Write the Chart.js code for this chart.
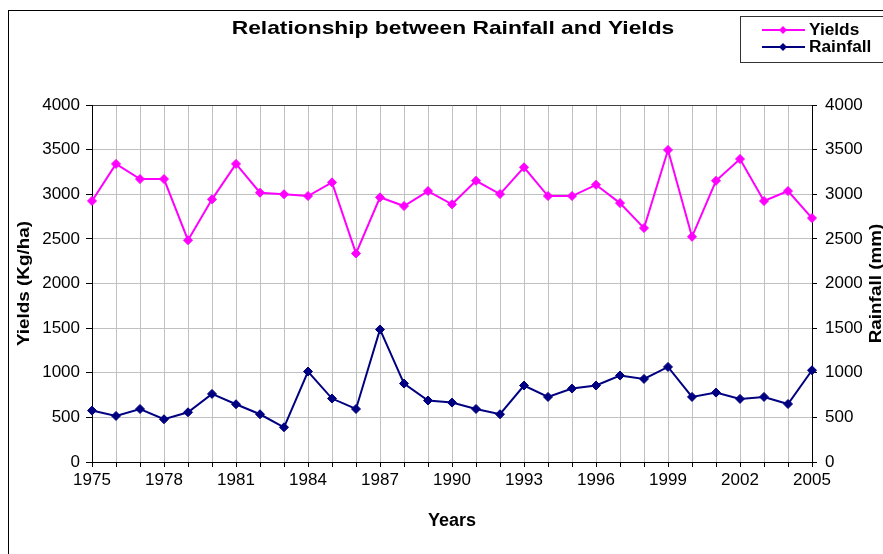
<!DOCTYPE html>
<html>
<head>
<meta charset="utf-8">
<title>Relationship between Rainfall and Yields</title>
<script src="https://cdn.jsdelivr.net/npm/chart.js"></script>
<style>
    html, body { margin: 0; padding: 0; background: #fff; }
    #myChart { display: block; }
</style>
</head>
<body>
<canvas id="myChart" width="883" height="554"></canvas>
<script>
const years = [1975, 1976, 1977, 1978, 1979, 1980, 1981, 1982, 1983, 1984,
    1985, 1986, 1987, 1988, 1989, 1990, 1991, 1992, 1993, 1994,
    1995, 1996, 1997, 1998, 1999, 2000, 2001, 2002, 2003, 2004, 2005]
const yields = [2925, 3340, 3170, 3170, 2485, 2943, 3340, 3017, 3000, 2980,
    3133, 2337, 2965, 2868, 3036, 2887, 3151, 3002, 3302, 2980,
    2980, 3106, 2901, 2621, 3496, 2523, 3151, 3395, 2924, 3036, 2733]
const rainfall = [576, 516, 594, 479, 557, 763, 647, 535, 389, 1014,
    711, 594, 1485, 879, 689, 666, 594, 535, 857, 729,
    823, 857, 969, 931, 1065, 729, 778, 707, 729, 650, 1028]
const yTicks = [0, 500, 1000, 1500, 2000, 2500, 3000, 3500, 4000]

const FONT = "'Liberation Sans', Arial, sans-serif"
const ctx = document.getElementById('myChart')

// the source chart's lettering is a bit wide, so stretch it along the text
function wideText(c, text, x, y, rot, stretch) {
    c.save()
    c.translate(x, y)
    c.rotate(rot)
    c.scale(stretch, 1)
    c.fillText(text, 0, 0)
    c.restore()
}

// frame, titles and the boxed legend like the spreadsheet chart
const decor = {
    id: 'decor',
    beforeDraw(chart) {
        const c = chart.ctx
        c.save()
        c.fillStyle = '#fff'
        c.fillRect(0, 0, chart.width, chart.height)
        c.strokeStyle = '#000'
        c.lineWidth = 1
        c.strokeRect(8.5, 10.5, 900, 600)
        c.restore()
    },
    afterDraw(chart) {
        const area = chart.chartArea
        const midY = (area.top + area.bottom) / 2
        const c = chart.ctx
        c.save()
        c.fillStyle = '#000'
        c.textAlign = 'center'
        c.textBaseline = 'middle'
        c.font = 'bold 19px ' + FONT
        wideText(c, 'Relationship between Rainfall and Yields', 453, 29, 0, 1.2)

        c.font = 'bold 16px ' + FONT
        wideText(c, 'Yields (Kg/ha)', 25, midY, -Math.PI / 2, 1.18)
        wideText(c, 'Rainfall (mm)', 877, midY, -Math.PI / 2, 1.18)

        // legend box
        c.fillStyle = '#fff'
        c.fillRect(740, 16, 150, 46)
        c.strokeStyle = '#333'
        c.lineWidth = 1
        c.strokeRect(740.5, 16.5, 150, 46)

        const items = [
            { text: 'Yields', color: '#FF00FF', y: 30 },
            { text: 'Rainfall', color: '#000080', y: 47 }
        ]
        items.forEach(item => {
            c.strokeStyle = item.color
            c.lineWidth = 2
            c.beginPath()
            c.moveTo(762, item.y)
            c.lineTo(805, item.y)
            c.stroke()
            c.fillStyle = item.color
            c.beginPath()
            c.moveTo(783, item.y - 4)
            c.lineTo(787, item.y)
            c.lineTo(783, item.y + 4)
            c.lineTo(779, item.y)
            c.closePath()
            c.fill()
            c.fillStyle = '#000'
            c.font = 'bold 16px ' + FONT
            c.textAlign = 'left'
            c.save()
            c.translate(809, item.y + 1)
            c.scale(1.08, 1)
            c.fillText(item.text, 0, 0)
            c.restore()
        })
        c.restore()
    }
}

const gridColor = (context) => context.tick && context.tick.value === 4000 ? '#404040' : '#c0c0c0'
const plainNumber = (v) => String(v)

new Chart(ctx, {
    type: 'line',
    data: {
        labels: years,
        datasets: [{
            label: 'Yields',
            data: yields,
            borderColor: '#FF00FF',
            backgroundColor: '#FF00FF',
            borderWidth: 2,
            pointStyle: 'rectRot',
            pointRadius: 4.5,
            pointBorderWidth: 1,
            tension: 0,
            yAxisID: 'y'
        },
        {
            label: 'Rainfall',
            data: rainfall,
            borderColor: '#000080',
            backgroundColor: '#000080',
            borderWidth: 2,
            pointStyle: 'rectRot',
            pointRadius: 4.5,
            pointBorderWidth: 1,
            tension: 0,
            yAxisID: 'y1'
        }]
    },
    options: {
        responsive: false,
        animation: false,
        devicePixelRatio: 1,
        layout: { padding: { top: 105, left: 0, right: 0, bottom: 0 } },
        plugins: {
            legend: { display: false },
            title: { display: false },
            tooltip: { enabled: false }
        },
        scales: {
            x: {
                type: 'category',
                offset: false,
                grid: { color: '#c0c0c0', tickColor: '#000', tickLength: 5, offset: false },
                border: { color: '#000', width: 1 },
                ticks: {
                    autoSkip: false,
                    maxRotation: 0,
                    padding: 3,
                    color: '#000',
                    font: { family: FONT, size: 17 },
                    callback: function (val, i) {
                        return i % 3 === 0 ? this.getLabelForValue(val) : ''
                    }
                },
                title: {
                    display: true,
                    text: 'Years',
                    color: '#000',
                    font: { family: FONT, size: 18, weight: 'bold' },
                    padding: { top: 0, bottom: 22 }
                },
                afterFit: (scale) => { scale.height = 92 }
            },
            y: {
                position: 'left',
                min: 0,
                max: 4000,
                afterBuildTicks: (scale) => { scale.ticks = yTicks.map(v => ({ value: v })) },
                grid: { color: gridColor, tickColor: '#000', tickLength: 6 },
                border: { color: '#000', width: 1 },
                ticks: {
                    padding: 6,
                    color: '#000',
                    font: { family: FONT, size: 17 },
                    callback: plainNumber
                },
                afterFit: (scale) => { scale.width = 92 }
            },
            y1: {
                position: 'right',
                min: 0,
                max: 4000,
                afterBuildTicks: (scale) => { scale.ticks = yTicks.map(v => ({ value: v })) },
                grid: { drawOnChartArea: false, tickColor: '#000', tickLength: 5 },
                border: { color: '#000', width: 1 },
                ticks: {
                    padding: 8,
                    color: '#000',
                    font: { family: FONT, size: 17 },
                    callback: plainNumber
                },
                afterFit: (scale) => { scale.width = 71 }
            }
        }
    },
    plugins: [decor]
})
</script>
</body>
</html>
